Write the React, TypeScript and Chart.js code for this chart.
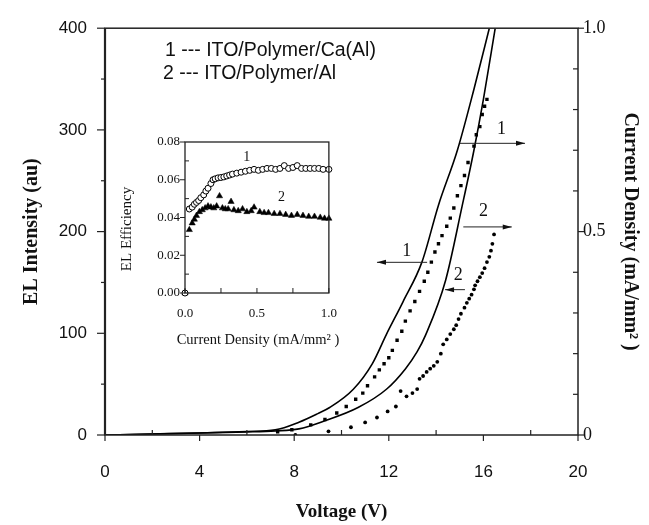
import React, { useEffect, useRef } from 'react';
import { Chart, registerables } from 'chart.js';
Chart.register(...registerables);

// ---------- main plot data ----------
// EL intensity (left axis), solid curves
const elVoltage1 = [0, 2, 4, 6, 7.2, 8.2, 9.0, 9.5, 10.5, 11.3, 11.9, 12.6, 13.4, 14.1, 14.9, 15.6, 16.25];
const elIntensity1 = [0, 1, 2, 3.5, 5, 12.5, 21, 27, 45, 70, 99, 131, 170, 226, 280, 340, 400];
const elVoltage2 = [0, 2, 4, 6, 7.2, 8.2, 9.3, 10.7, 11.9, 12.7, 13.2, 13.55, 14.4, 15.1, 15.6, 16.0, 16.5];
const elIntensity2 = [0, 1, 2, 3, 4, 6, 14, 27, 45, 65, 82, 98, 152, 225, 280, 330, 400];

// Current density (right axis), square markers (device 1)
const jVoltage1 = [7.3, 7.9, 8.7, 9.3, 9.8, 10.2, 10.6, 10.9, 11.1, 11.4, 11.6, 11.8, 12.0, 12.15, 12.35, 12.55, 12.7, 12.9, 13.1, 13.3, 13.5, 13.65, 13.8, 13.95, 14.1, 14.25, 14.45, 14.6, 14.75, 14.9, 15.05, 15.2, 15.35, 15.6, 15.7, 15.85, 15.95, 16.05, 16.15];
const jDensity1 = [0.008, 0.013, 0.025, 0.038, 0.054, 0.07, 0.088, 0.103, 0.121, 0.143, 0.16, 0.175, 0.19, 0.208, 0.233, 0.255, 0.28, 0.305, 0.328, 0.353, 0.378, 0.4, 0.425, 0.45, 0.47, 0.49, 0.513, 0.533, 0.558, 0.588, 0.613, 0.638, 0.67, 0.71, 0.738, 0.758, 0.788, 0.808, 0.825];

// Current density (right axis), dot markers (device 2)
const jVoltage2 = [8.05, 9.45, 10.4, 11.0, 11.5, 11.95, 12.3, 12.5, 12.75, 13.0, 13.2, 13.3, 13.45, 13.6, 13.75, 13.9, 14.05, 14.2, 14.3, 14.45, 14.6, 14.75, 14.85, 14.95, 15.05, 15.2, 15.3, 15.4, 15.5, 15.6, 15.65, 15.75, 15.85, 15.95, 16.05, 16.15, 16.25, 16.32, 16.38, 16.45];
const jDensity2 = [0, 0.009, 0.019, 0.031, 0.043, 0.058, 0.07, 0.108, 0.095, 0.103, 0.113, 0.138, 0.145, 0.155, 0.163, 0.17, 0.18, 0.2, 0.223, 0.235, 0.248, 0.26, 0.27, 0.285, 0.298, 0.313, 0.325, 0.335, 0.345, 0.358, 0.368, 0.378, 0.388, 0.398, 0.41, 0.425, 0.438, 0.453, 0.47, 0.493];

// ---------- inset data ----------
const insetJ1 = [0, 0.03, 0.05, 0.065, 0.08, 0.095, 0.11, 0.13, 0.145, 0.16, 0.18, 0.195, 0.21, 0.23, 0.25, 0.27, 0.29, 0.31, 0.33, 0.36, 0.39, 0.42, 0.45, 0.48, 0.51, 0.54, 0.57, 0.6, 0.63, 0.66, 0.69, 0.72, 0.75, 0.78, 0.81, 0.84, 0.87, 0.9, 0.93, 0.96, 1.0];
const insetEff1 = [0, 0.0445, 0.0455, 0.047, 0.048, 0.049, 0.0505, 0.052, 0.054, 0.0555, 0.058, 0.06, 0.0605, 0.061, 0.0612, 0.0615, 0.062, 0.0625, 0.063, 0.0635, 0.064, 0.0645, 0.065, 0.0655, 0.065, 0.0655, 0.066, 0.066, 0.0655, 0.066, 0.0675, 0.066, 0.0665, 0.0675, 0.066, 0.066, 0.066, 0.066, 0.066, 0.0655, 0.0655];
const insetJ2 = [0, 0.03, 0.05, 0.065, 0.08, 0.1, 0.12, 0.14, 0.16, 0.18, 0.2, 0.22, 0.24, 0.26, 0.28, 0.3, 0.32, 0.34, 0.37, 0.4, 0.43, 0.46, 0.48, 0.52, 0.55, 0.58, 0.62, 0.66, 0.7, 0.74, 0.78, 0.82, 0.86, 0.9, 0.94, 0.97, 1.0];
const insetEff2 = [0, 0.0335, 0.037, 0.039, 0.041, 0.043, 0.044, 0.045, 0.046, 0.0455, 0.045, 0.046, 0.0514, 0.045, 0.0445, 0.0445, 0.0484, 0.044, 0.0435, 0.0445, 0.043, 0.0435, 0.0454, 0.043, 0.0425, 0.0425, 0.042, 0.042, 0.0415, 0.041, 0.0415, 0.041, 0.0405, 0.0405, 0.04, 0.0395, 0.0395];

// ---------- text ----------
const legendLines = ['1 --- ITO/Polymer/Ca(Al)', '2 --- ITO/Polymer/Al'];
const xTitle = 'Voltage (V)';
const yTitle = 'EL Intensity (au)';
const y2Title = 'Current Density (mA/mm\u00B2 )';
const insetXTitle = 'Current Density (mA/mm\u00B2 )';
const insetYTitle = 'EL Efficiency';

const SANS = "'Liberation Sans', Arial, sans-serif";
const SERIF = "'Liberation Serif', 'Times New Roman', serif";
const INK = '#111';

const zip = (xs: number[], ys: number[]) => xs.map((x, i) => ({ x, y: ys[i] }));

function line(ctx: CanvasRenderingContext2D, x1: number, y1: number, x2: number, y2: number) {
  ctx.beginPath();
  ctx.moveTo(x1, y1);
  ctx.lineTo(x2, y2);
  ctx.stroke();
}

function arrow(ctx: CanvasRenderingContext2D, x1: number, y: number, x2: number) {
  line(ctx, x1, y, x2, y);
  const d = Math.sign(x2 - x1);
  ctx.beginPath();
  ctx.moveTo(x2, y);
  ctx.lineTo(x2 - d * 9, y - 2.5);
  ctx.lineTo(x2 - d * 9, y + 2.5);
  ctx.closePath();
  ctx.fill();
}

const mainDecor = {
  id: 'mainDecor',
  afterDraw(chart: any) {
    const { ctx, chartArea: a } = chart;
    const { x, y, y2 } = chart.scales;
    ctx.save();
    ctx.strokeStyle = '#222';
    ctx.fillStyle = INK;
    ctx.lineWidth = 1.5;
    ctx.strokeRect(a.left, a.top, a.right - a.left, a.bottom - a.top);
    ctx.lineWidth = 2.2;
    line(ctx, a.left, a.top, a.left, a.bottom);
    ctx.lineWidth = 1.2;
    for (let v = 0; v <= 400; v += 50) {
      const py = y.getPixelForValue(v);
      line(ctx, a.left - (v % 100 === 0 ? 8 : 4), py, a.left, py);
    }
    for (let i = 0; i <= 10; i++) {
      const py = y2.getPixelForValue(i / 10);
      if (i % 5 === 0) line(ctx, a.right, py, a.right + 6, py);
      else line(ctx, a.right - 5, py, a.right, py);
    }
    for (let v = 0; v <= 20; v += 2) {
      const px = x.getPixelForValue(v);
      if (v % 4 === 0) line(ctx, px, a.bottom, px, a.bottom + 6);
      else line(ctx, px, a.bottom - 5, px, a.bottom);
    }
    // arrows and labels
    ctx.lineWidth = 1;
    const notes = [
      { t: '1', from: 15.01, to: 17.76, lvl: 286.8, tx: 16.77, ty: 300.5 },
      { t: '2', from: 15.15, to: 17.2, lvl: 204.6, tx: 16.0, ty: 219.7 },
      { t: '1', from: 13.62, to: 11.5, lvl: 169.8, tx: 12.76, ty: 180.6 },
      { t: '2', from: 15.22, to: 14.38, lvl: 142.9, tx: 14.94, ty: 156.6 },
    ];
    ctx.font = `18px ${SERIF}`;
    ctx.textAlign = 'center';
    ctx.textBaseline = 'middle';
    for (const n of notes) {
      arrow(ctx, x.getPixelForValue(n.from), y.getPixelForValue(n.lvl), x.getPixelForValue(n.to));
      ctx.fillText(n.t, x.getPixelForValue(n.tx), y.getPixelForValue(n.ty));
    }
    // legend text
    ctx.font = `19.5px ${SANS}`;
    ctx.textAlign = 'left';
    ctx.fillText(legendLines[0], 165, 51);
    ctx.fillText(legendLines[1], 163, 74);
    ctx.restore();
  },
};

const insetDecor = {
  id: 'insetDecor',
  afterDraw(chart: any) {
    const { ctx, chartArea: a } = chart;
    const { x, y } = chart.scales;
    ctx.save();
    ctx.strokeStyle = '#222';
    ctx.fillStyle = INK;
    ctx.lineWidth = 1.3;
    ctx.strokeRect(a.left, a.top, a.right - a.left, a.bottom - a.top);
    ctx.lineWidth = 1;
    for (let i = 0; i <= 8; i++) {
      const py = y.getPixelForValue(i / 100);
      if (i % 2 === 0) line(ctx, a.left - 5, py, a.left, py);
      else line(ctx, a.left, py, a.left + 4, py);
    }
    for (let i = 0; i <= 4; i++) {
      const px = x.getPixelForValue(i / 4);
      line(ctx, px, a.bottom - 5, px, a.bottom);
    }
    ctx.font = `14px ${SERIF}`;
    ctx.textAlign = 'center';
    ctx.textBaseline = 'middle';
    ctx.fillText('1', x.getPixelForValue(0.43), y.getPixelForValue(0.072));
    ctx.fillText('2', x.getPixelForValue(0.67), y.getPixelForValue(0.0505));
    ctx.font = `14.5px ${SERIF}`;
    ctx.fillText(insetXTitle, 148, 212);
    ctx.font = `15px ${SERIF}`;
    ctx.translate(17, 101);
    ctx.rotate(-Math.PI / 2);
    ctx.fillText(insetYTitle, 0, 0);
    ctx.restore();
  },
};

export default function App() {
  const mainRef = useRef<HTMLCanvasElement>(null);
  const insetRef = useRef<HTMLCanvasElement>(null);

  useEffect(() => {
    const noGrid = { display: false, drawTicks: false };
    const main = new Chart(mainRef.current as HTMLCanvasElement, {
      type: 'line',
      data: {
        datasets: [
          { data: zip(elVoltage1, elIntensity1), yAxisID: 'y', borderColor: '#000', borderWidth: 1.6, pointRadius: 0, cubicInterpolationMode: 'monotone', fill: false },
          { data: zip(elVoltage2, elIntensity2), yAxisID: 'y', borderColor: '#000', borderWidth: 1.6, pointRadius: 0, cubicInterpolationMode: 'monotone', fill: false },
          { data: zip(jVoltage1, jDensity1), yAxisID: 'y2', showLine: false, pointStyle: 'rect', pointRadius: 2.4, pointBackgroundColor: '#000', pointBorderColor: '#000', pointBorderWidth: 0 },
          { data: zip(jVoltage2, jDensity2), yAxisID: 'y2', showLine: false, pointStyle: 'circle', pointRadius: 1.9, pointBackgroundColor: '#000', pointBorderColor: '#000', pointBorderWidth: 0 },
        ],
      } as any,
      options: {
        responsive: false,
        animation: false,
        devicePixelRatio: 1,
        layout: { padding: { top: 18, left: 0, right: 0, bottom: 0 } },
        plugins: { legend: { display: false }, tooltip: { enabled: false } },
        scales: {
          x: {
            type: 'linear', position: 'bottom', min: 0, max: 20,
            afterFit: (s: any) => { s.height = 90; },
            grid: noGrid, border: { display: false },
            ticks: { stepSize: 4, padding: 27, maxRotation: 0, color: INK, font: { family: SANS, size: 17 } },
            title: { display: true, text: xTitle, color: INK, font: { family: SERIF, size: 19, weight: 'bold' }, padding: { top: 0, bottom: 2 } },
          },
          y: {
            type: 'linear', position: 'left', min: 0, max: 400,
            afterFit: (s: any) => { s.width = 105; },
            grid: noGrid, border: { display: false },
            ticks: { stepSize: 100, padding: 18, color: INK, font: { family: SANS, size: 17 } },
            title: { display: true, text: yTitle, color: INK, font: { family: SERIF, size: 20, weight: 'bold' }, padding: { top: 20, bottom: 0 } },
          },
          y2: {
            type: 'linear', position: 'right', min: 0, max: 1,
            afterFit: (s: any) => { s.width = 71; },
            grid: noGrid, border: { display: false },
            ticks: { stepSize: 0.5, padding: 5, color: INK, font: { family: SERIF, size: 18 }, callback: (v: any) => (Number(v) === 0 ? '0' : Number(v).toFixed(1)) },
            title: { display: true, text: y2Title, color: INK, font: { family: SERIF, size: 20, weight: 'bold' }, padding: { top: 7, bottom: 0 } },
          },
        },
      } as any,
      plugins: [mainDecor],
    });

    const inset = new Chart(insetRef.current as HTMLCanvasElement, {
      type: 'line',
      data: {
        datasets: [
          { data: zip(insetJ1, insetEff1), showLine: false, pointStyle: 'circle', pointRadius: 3, pointBorderWidth: 1, pointBackgroundColor: '#fff', pointBorderColor: '#000', clip: false },
          { data: zip(insetJ2, insetEff2), showLine: false, pointStyle: 'triangle', pointRadius: 3.6, pointBorderWidth: 0.5, pointBackgroundColor: '#000', pointBorderColor: '#000', clip: false },
        ],
      } as any,
      options: {
        responsive: false,
        animation: false,
        devicePixelRatio: 1,
        layout: { padding: { top: 14, right: 11, left: 0, bottom: 0 } },
        plugins: { legend: { display: false }, tooltip: { enabled: false } },
        scales: {
          x: {
            type: 'linear', position: 'bottom', min: 0, max: 1,
            afterFit: (s: any) => { s.height = 60; },
            grid: noGrid, border: { display: false },
            ticks: { stepSize: 0.5, padding: 13, maxRotation: 0, color: INK, font: { family: SERIF, size: 13 }, callback: (v: any) => Number(v).toFixed(1) },
          },
          y: {
            type: 'linear', position: 'left', min: 0, max: 0.08,
            afterFit: (s: any) => { s.width = 75; },
            grid: noGrid, border: { display: false },
            ticks: { stepSize: 0.02, padding: 5, color: INK, font: { family: SERIF, size: 13 }, callback: (v: any) => Number(v).toFixed(2) },
          },
        },
      } as any,
      plugins: [insetDecor],
    });

    return () => {
      main.destroy();
      inset.destroy();
    };
  }, []);

  return (
    <div style={{ position: 'absolute', left: 0, top: 0, width: 649, height: 525, background: '#fff' }}>
      <canvas ref={mainRef} width={649} height={525} style={{ position: 'absolute', left: 0, top: 0 }} />
      <canvas ref={insetRef} width={240} height={225} style={{ position: 'absolute', left: 110, top: 128 }} />
    </div>
  );
}
